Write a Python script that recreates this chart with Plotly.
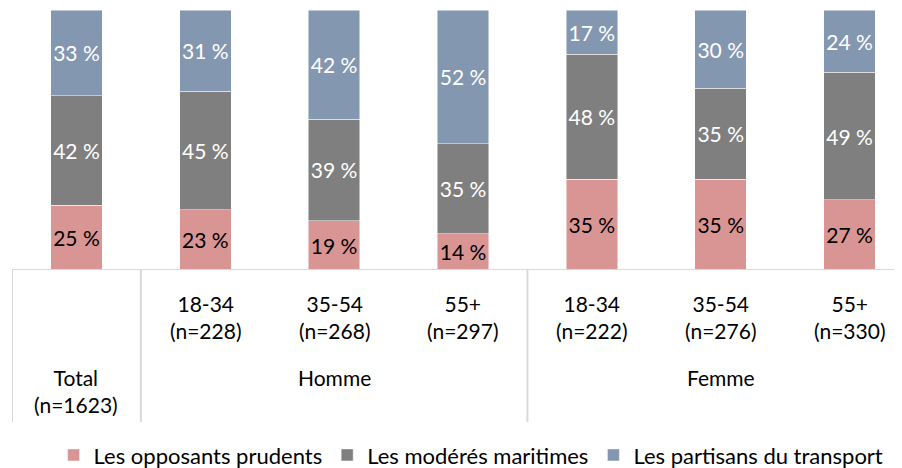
import plotly.graph_objects as go

categories = ["Total", "H 18-34", "H 35-54", "H 55+", "F 18-34", "F 35-54", "F 55+"]
inner_labels = ["", "18-34<br>(n=228)", "35-54<br>(n=268)", "55+<br>(n=297)",
                "18-34<br>(n=222)", "35-54<br>(n=276)", "55+<br>(n=330)"]
group_labels = ["Total<br>(n=1623)", "Homme", "Femme"]
group_centers = [0, 2, 5]
dividers = [-0.5, 0.5, 3.5]

series_names = ["Les opposants prudents", "Les modérés maritimes", "Les partisans du transport"]
opposants = [25, 23, 19, 14, 35, 35, 27]
moderes = [42, 45, 39, 35, 48, 35, 49]
partisans = [33, 31, 42, 52, 17, 30, 24]
colors = ["#D99594", "#7F7F7F", "#8497B0"]
text_colors = ["#000000", "#FFFFFF", "#FFFFFF"]

FONT = "Lato"
xs = list(range(len(categories)))

fig = go.Figure()
for name, vals, col, tcol in zip(series_names, [opposants, moderes, partisans], colors, text_colors):
    fig.add_trace(go.Bar(
        x=xs, y=vals, name=name, text=[f"{v} %" for v in vals],
        texttemplate="%{text}", textposition="inside", insidetextanchor="middle",
        textangle=0, constraintext="none", cliponaxis=False,
        textfont=dict(family=FONT, size=21, color=tcol),
        marker=dict(color=col, line=dict(color="rgba(255,255,255,0.6)", width=0.8)),
        hoverinfo="skip",
    ))

fig.update_layout(
    barmode="stack", barnorm="percent", bargap=0.6,
    width=894, height=460,
    margin=dict(l=4, r=0, t=2, b=198, autoexpand=False),
    paper_bgcolor="white", plot_bgcolor="white",
    font=dict(family=FONT, size=21, color="#000000"),
    xaxis=dict(range=[-0.5, 6.407], showticklabels=False, showgrid=False,
               zeroline=False, showline=False, fixedrange=True),
    yaxis=dict(range=[0, 100], showticklabels=False, showgrid=False,
               zeroline=False, showline=False, fixedrange=True),
    legend=dict(orientation="h", xref="container", yref="container",
                x=0.518, xanchor="center", y=0.028, yanchor="middle",
                font=dict(family=FONT, size=22, color="#000000"),
                traceorder="normal", itemwidth=30),
    uniformtext=dict(mode=False),
)

# axis line and dividers
fig.add_shape(type="line", xref="paper", yref="y", x0=0, x1=1, y0=0, y1=0,
              line=dict(color="#D9D9D9", width=2))
for d in dividers:
    fig.add_shape(type="line", xref="x", yref="paper", x0=d, x1=d, y0=0, y1=-0.585,
                  line=dict(color="#D9D9D9", width=2))

for x, lab in zip(xs, inner_labels):
    if lab:
        fig.add_annotation(x=x, y=-0.181, xref="x", yref="paper", text=lab,
                           showarrow=False, yanchor="middle",
                           font=dict(family=FONT, size=21, color="#000000"))
for x, lab in zip(group_centers, group_labels):
    yy = -0.465 if "<br>" in lab else -0.415
    fig.add_annotation(x=x, y=yy, xref="x", yref="paper", text=lab,
                       showarrow=False, yanchor="middle",
                       font=dict(family=FONT, size=21, color="#000000"))

fig.write_html("out.html")
